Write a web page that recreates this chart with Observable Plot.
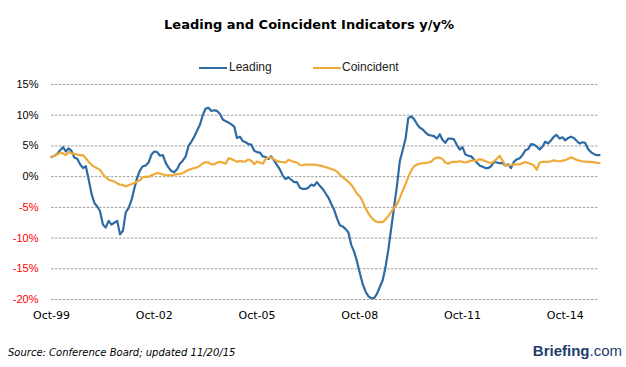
<!DOCTYPE html>
<html><head><meta charset="utf-8">
<script src="https://cdn.jsdelivr.net/npm/d3@7"></script>
<script src="https://cdn.jsdelivr.net/npm/@observablehq/plot@0.6"></script>
<style>
body{margin:0;background:#fff;}
#wrap{position:relative;width:626px;height:367px;overflow:hidden;font-family:"Liberation Sans",Arial,sans-serif;}
#chart{position:absolute;left:0;top:0;}
#title{position:absolute;left:0;width:618px;top:16px;line-height:18px;text-align:center;font-weight:bold;font-size:13px;font-family:"DejaVu Sans",sans-serif;color:#000;}
#legend{position:absolute;left:0;top:60px;width:626px;height:16px;font-size:12px;color:#222;}
.sw{position:absolute;top:7px;height:2px;width:28px;}
.lt{position:absolute;top:0;line-height:14px;}
#source{position:absolute;left:8px;top:347px;font-style:italic;font-size:10px;font-family:"DejaVu Sans",sans-serif;color:#000;}
#logo{position:absolute;right:4px;top:342px;font-size:15px;color:#1d3d6e;}
</style></head><body>
<div id="wrap">
  <div id="chart"></div>
  <div id="title"></div>
  <div id="legend"></div>
  <div id="source"></div>
  <div id="logo"><b>Briefing</b>.com</div>
</div>
<script>
const titleText = "Leading and Coincident Indicators y/y%";
const sourceText = "Source: Conference Board; updated 11/20/15";
const seriesNames = ["Leading", "Coincident"];
const seriesColors = ["#2e6ba3", "#f0aa3a"];
const firstMonth = "1999-10";
const xTickLabels = ["Oct-99", "Oct-02", "Oct-05", "Oct-08", "Oct-11", "Oct-14"];
const yTicks = [15, 10, 5, 0, -5, -10, -15, -20];

const leading = [
3.2,3.4,3.7,4.3,4.8,4.1,4.6,4.2,3.1,2.9,2.0,1.4,1.7,-0.5,-2.8,-4.3,-4.9,-5.6,-7.8,-8.3,
-7.2,-7.8,-7.5,-7.2,-9.4,-8.8,-5.8,-5.1,-3.8,-2.0,-0.2,1.0,1.7,1.8,2.3,3.6,4.1,4.0,3.4,3.5,
2.2,1.5,0.9,0.7,1.2,2.1,2.6,3.3,5.0,5.7,6.5,7.5,8.5,10.0,11.1,11.2,10.7,10.8,10.7,10.2,
9.3,9.0,8.8,8.5,8.1,6.3,6.5,5.8,5.6,5.3,5.2,4.2,4.0,3.9,3.3,3.2,2.9,3.3,2.6,1.9,
1.2,0.2,-0.4,-0.1,-0.5,-0.9,-0.9,-1.8,-2.0,-2.0,-1.8,-1.3,-1.5,-0.9,-1.5,-2.0,-2.7,-3.4,-4.4,-5.4,
-6.8,-7.9,-8.1,-8.5,-9.1,-11.1,-12.2,-13.8,-15.7,-17.5,-18.7,-19.5,-19.8,-19.8,-19.1,-18.0,-16.9,-14.8,-11.9,-8.4,
-5.0,-1.5,2.5,4.3,6.2,9.5,9.8,9.4,8.6,8.0,7.7,7.2,6.8,6.7,6.6,6.2,6.9,6.0,5.5,6.2,
6.2,6.1,5.2,4.4,4.8,3.6,3.4,3.3,2.8,2.3,1.8,1.6,1.4,1.4,1.7,2.4,2.3,2.2,2.2,1.8,
2.0,1.4,2.4,2.8,3.0,3.5,4.3,4.5,5.3,5.2,4.9,4.4,4.9,5.7,5.4,5.9,6.5,6.8,6.2,6.4,
5.9,6.3,6.5,6.3,5.8,5.4,5.6,5.5,4.5,4.0,3.7,3.5,3.5
];
const coincident = [
3.2,3.4,3.6,3.9,3.8,3.5,4.0,3.8,3.7,3.6,3.5,3.5,3.0,2.4,1.9,1.6,1.35,1.1,0.4,-0.1,
-0.5,-0.65,-0.8,-1.1,-1.3,-1.35,-1.6,-1.4,-1.2,-1.05,-0.8,-0.6,-0.1,0.0,-0.05,0.25,0.4,0.6,0.5,0.35,
0.25,0.2,0.2,0.3,0.4,0.45,0.6,0.85,1.1,1.25,1.4,1.5,1.8,2.15,2.35,2.3,2.0,2.0,2.3,2.4,
2.3,2.1,3.0,2.85,2.65,2.4,2.6,2.45,2.5,2.8,2.6,2.05,2.45,2.3,2.1,2.9,3.1,3.1,2.8,2.55,
2.4,2.35,2.3,2.75,2.55,2.4,2.3,1.9,1.85,1.95,1.95,1.95,1.95,1.9,1.8,1.7,1.55,1.4,1.25,1.1,
0.85,0.35,-0.1,-0.45,-0.85,-1.3,-2.0,-2.8,-3.2,-4.1,-5.1,-6.0,-6.65,-7.1,-7.35,-7.4,-7.4,-7.0,-6.4,-5.75,
-5.1,-4.5,-3.5,-2.3,-1.2,-0.1,0.95,1.7,1.95,2.1,2.2,2.2,2.3,2.45,2.9,3.1,3.1,2.85,2.3,2.1,
2.35,2.4,2.4,2.5,2.4,2.3,2.45,2.6,2.6,2.6,2.85,2.75,2.5,2.35,2.2,2.5,2.9,3.4,2.6,1.8,
1.85,1.9,2.0,2.0,2.0,2.2,2.4,2.2,2.05,1.8,1.1,2.3,2.4,2.4,2.4,2.5,2.65,2.55,2.5,2.6,
2.7,2.9,3.15,2.95,2.7,2.6,2.5,2.45,2.4,2.4,2.35,2.25,2.2
];

const start = d3.utcParse("%Y-%m")(firstMonth);
const monthDate = i => d3.utcMonth.offset(start, i);
const rows = [];
[leading, coincident].forEach((arr, s) => arr.forEach((v, i) => rows.push({series: seriesNames[s], date: monthDate(i), value: v})));
const xTicks = xTickLabels.map(d3.utcParse("%b-%y"));
const lastDate = monthDate(leading.length - 1);

const chart = Plot.plot({
  width: 626, height: 367,
  marginLeft: 51, marginRight: 27, marginTop: 84, marginBottom: 68,
  style: {background: "transparent", fontFamily: "Liberation Sans, Arial, sans-serif"},
  x: {type: "utc", domain: [start, lastDate], label: null},
  y: {domain: [-20, 15], label: null},
  color: {domain: seriesNames, range: seriesColors},
  marks: [
    Plot.gridY(yTicks, {stroke: "#9c9c9c", strokeOpacity: 1, strokeWidth: 1, strokeDasharray: "2.5,1.5"}),
    Plot.axisY(yTicks.filter(v => v >= 0), {label: null, tickSize: 0, tickPadding: 13, tickFormat: d => d + "%", fontSize: 11, fill: "#000"}),
    Plot.axisY(yTicks.filter(v => v < 0), {label: null, tickSize: 0, tickPadding: 13, tickFormat: d => d + "%", fontSize: 11, fill: "#ff0000"}),
    Plot.axisX(xTicks, {label: null, tickSize: 0, tickPadding: 12, tickFormat: d3.utcFormat("%b-%y"), fontSize: 11, fontFamily: "DejaVu Sans", fill: "#000"}),
    Plot.line(rows.filter(r => r.series === seriesNames[0]), {x: "date", y: "value", stroke: "series", strokeWidth: 2.2, curve: "linear"}),
    Plot.line(rows.filter(r => r.series === seriesNames[1]), {x: "date", y: "value", stroke: "series", strokeWidth: 2.2, curve: "linear"})
  ]
});
document.getElementById("chart").appendChild(chart);
document.getElementById("title").textContent = titleText;
document.getElementById("source").textContent = sourceText;

const legendPos = [{sw: 199, tx: 229}, {sw: 313, tx: 342}];
const lg = document.getElementById("legend");
seriesNames.forEach((n, i) => {
  const s = document.createElement("div");
  s.className = "sw"; s.style.left = legendPos[i].sw + "px"; s.style.background = seriesColors[i];
  const t = document.createElement("div");
  t.className = "lt"; t.style.left = legendPos[i].tx + "px"; t.textContent = n;
  lg.appendChild(s); lg.appendChild(t);
});
</script>
</body></html>
